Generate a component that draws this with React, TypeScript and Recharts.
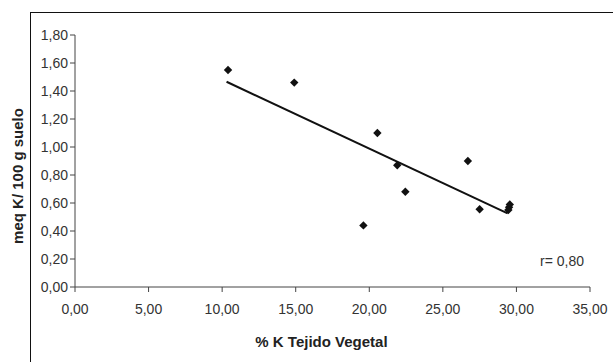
import React from "react";
import {
  ScatterChart,
  Scatter,
  XAxis,
  YAxis,
} from "recharts";

// % K en tejido vegetal vs meq K / 100 g suelo
const kTejido = [10.4, 14.9, 19.6, 20.55, 21.9, 22.45, 26.7, 27.5, 29.55, 29.5, 29.45];
const kSuelo = [1.55, 1.46, 0.44, 1.1, 0.87, 0.68, 0.9, 0.555, 0.59, 0.57, 0.55];

// recta de regresión (extremos)
const trendX = [10.3, 29.4];
const trendY = [1.466, 0.526];

const xTicks = [0, 5, 10, 15, 20, 25, 30, 35];
const yTicks = [0, 0.2, 0.4, 0.6, 0.8, 1.0, 1.2, 1.4, 1.6, 1.8];

const points = kTejido.map((x, i) => ({ x, y: kSuelo[i] }));
const trend = trendX.map((x, i) => ({ x, y: trendY[i] }));

const fmt = (v: number) => v.toFixed(2).replace(".", ",");

const FONT = "'Liberation Sans', Arial, sans-serif";
const AXIS = "#444";

const Diamond = (props: any) => {
  const { cx, cy } = props;
  const r = 4.2;
  return (
    <polygon
      points={`${cx},${cy - r} ${cx + r},${cy} ${cx},${cy + r} ${cx - r},${cy}`}
      fill="#111"
    />
  );
};

const XTitle = (props: any) => {
  const vb = props.viewBox;
  return (
    <text
      x={vb.x + vb.width / 2 - 11}
      y={vb.y + 60}
      textAnchor="middle"
      fontFamily={FONT}
      fontSize={15}
      fontWeight="bold"
      fill="#222"
    >
      % K Tejido Vegetal
    </text>
  );
};

const YTitle = (props: any) => {
  const vb = props.viewBox;
  const cx = vb.x - 13;
  const cy = vb.y + vb.height / 2 + 15;
  return (
    <text
      x={cx}
      y={cy}
      transform={`rotate(-90, ${cx}, ${cy})`}
      textAnchor="middle"
      dominantBaseline="central"
      fontFamily={FONT}
      fontSize={15}
      fontWeight="bold"
      fill="#222"
    >
      meq K/ 100 g suelo
    </text>
  );
};

export default function App() {
  return (
    <div
      style={{
        position: "fixed",
        left: 0,
        top: 0,
        width: 613,
        height: 362,
        overflow: "hidden",
        background: "#fff",
      }}
    >
      <div
        style={{
          position: "absolute",
          left: 30,
          top: 12,
          width: 620,
          height: 400,
          borderLeft: "1px solid #111",
          borderTop: "1px solid #111",
        }}
      />
      <ScatterChart
        width={613}
        height={362}
        margin={{ top: 35, right: 23, bottom: 45, left: 30 }}
        style={{ position: "absolute", left: 0, top: 0 }}
      >
        <XAxis
          type="number"
          dataKey="x"
          domain={[0, 35]}
          ticks={xTicks}
          tickFormatter={fmt}
          height={30}
          tickSize={5}
          tickMargin={12}
          stroke={AXIS}
          tick={{ fill: "#333", fontSize: 14, fontFamily: FONT }}
          allowDataOverflow
          label={XTitle}
        />
        <YAxis
          type="number"
          dataKey="y"
          domain={[0, 1.8]}
          ticks={yTicks}
          tickFormatter={fmt}
          width={45}
          tickSize={5}
          tickMargin={2}
          stroke={AXIS}
          tick={{ fill: "#333", fontSize: 14, fontFamily: FONT }}
          allowDataOverflow
          label={YTitle}
        />
        <Scatter
          data={trend}
          line={{ stroke: "#111", strokeWidth: 2 }}
          lineType="joint"
          shape={() => <g />}
          isAnimationActive={false}
        />
        <Scatter data={points} shape={Diamond} isAnimationActive={false} />
      </ScatterChart>
      <div
        style={{
          position: "absolute",
          left: 540,
          top: 253,
          fontFamily: FONT,
          fontSize: 14,
          color: "#333",
          whiteSpace: "nowrap",
        }}
      >
        r= 0,80
      </div>
    </div>
  );
}
